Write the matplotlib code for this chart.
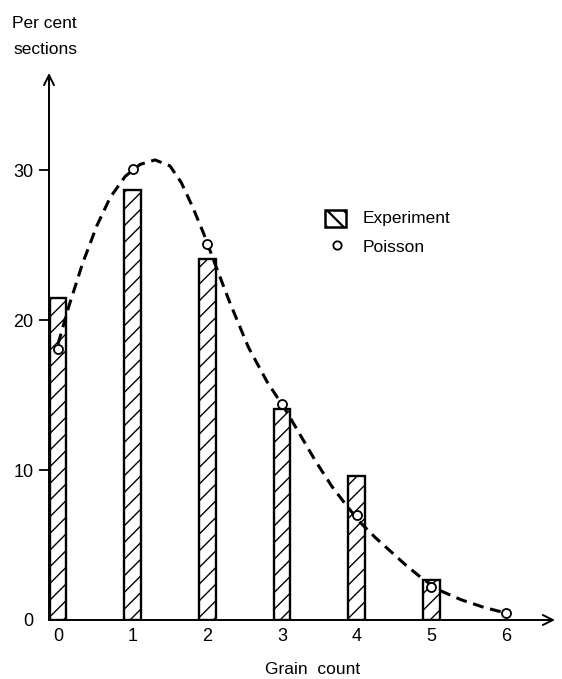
import matplotlib
matplotlib.use("Agg")
import matplotlib.pyplot as plt
from matplotlib.patches import Rectangle
from matplotlib.lines import Line2D

# Datos
grain = [0, 1, 2, 3, 4, 5]
experiment = [21.5, 28.7, 24.1, 14.1, 9.6, 2.7]
poisson_x = [0, 1, 2, 3, 4, 5, 6]
poisson = [18.1, 30.1, 25.1, 14.4, 7.0, 2.2, 0.5]
# curva a trazos (puntos leídos a lo largo de la línea)
curve_x = [0.0, 0.15, 0.33, 0.52, 0.7, 0.9, 1.1, 1.3, 1.5, 1.65, 1.8, 1.95,
           2.1, 2.3, 2.55, 2.8, 3.05, 3.25, 3.45, 3.67, 3.87, 4.05, 4.25,
           4.45, 4.65, 4.87, 5.1, 5.4, 5.7, 5.97]
curve_y = [18.4, 21.0, 23.8, 26.3, 28.2, 29.6, 30.4, 30.7, 30.3, 29.2, 27.6,
           25.8, 23.8, 21.2, 18.2, 15.9, 14.0, 12.3, 10.6, 8.9, 7.6, 6.5, 5.5,
           4.6, 3.7, 2.8, 2.0, 1.35, 0.85, 0.5]
yticks = [0, 10, 20, 30]
xticks = [0, 1, 2, 3, 4, 5, 6]

plt.rcParams["font.family"] = ["Liberation Sans", "DejaVu Sans"]
plt.rcParams["hatch.linewidth"] = 1.0

W, H = 562, 679
fig = plt.figure(figsize=(W / 100, H / 100), dpi=100)
ax = fig.add_axes([49 / W, 59 / H, 506 / W, 547 / H])
ax.set_xlim(-0.12, 6.656)
ax.set_ylim(0, 36.5)

ax.bar(grain, experiment, width=0.22, facecolor="white", edgecolor="black",
       linewidth=1.7, hatch="//", zorder=2)
ax.plot(curve_x, curve_y, color="black", lw=2.2, dashes=(3.6, 2.2),
        solid_capstyle="butt", zorder=3)
ax.plot(poisson_x, poisson, linestyle="none", marker="o", markersize=6.5,
        markerfacecolor="white", markeredgecolor="black",
        markeredgewidth=1.3, zorder=4)

# ejes con flechas
for s in ax.spines.values():
    s.set_visible(False)
arrow = dict(arrowstyle="->", lw=1.4, color="black", mutation_scale=18,
             shrinkA=0, shrinkB=0)
ax.annotate("", xy=(1, 0), xytext=(0, 0), xycoords="axes fraction",
            arrowprops=arrow, annotation_clip=False)
ax.annotate("", xy=(0, 1), xytext=(0, 0), xycoords="axes fraction",
            arrowprops=arrow, annotation_clip=False)

ax.set_yticks(yticks)
ax.set_yticklabels([str(v) for v in yticks], fontsize=13)
ax.tick_params(axis="y", length=7, width=1.3, pad=4)
ax.yaxis.get_major_ticks()[0].tick1line.set_visible(False)
ax.set_xticks(xticks)
ax.set_xticklabels([str(v) for v in xticks], fontsize=13)
ax.tick_params(axis="x", length=0, pad=6)

fig.text(313 / W, 1 - 670 / H, "Grain  count", fontsize=12.5,
         ha="center", va="center")
fig.text(12 / W, 1 - 23 / H, "Per cent", fontsize=12.5, va="center")
fig.text(13 / W, 1 - 50 / H, "sections", fontsize=12.5, va="center")

# leyenda dibujada a mano
box = Rectangle((325 / W, 1 - 227 / H), 21 / W, 17 / H,
                transform=fig.transFigure, facecolor="white",
                edgecolor="black", linewidth=1.8, hatch="\\\\")
if hasattr(box, "set_hatch_linewidth"):
    box.set_hatch_linewidth(1.6)
fig.patches.append(box)
fig.lines.append(Line2D([337 / W], [1 - 245 / H], transform=fig.transFigure,
                        marker="o", markersize=6, markerfacecolor="white",
                        markeredgecolor="black", markeredgewidth=1.3))
fig.text(363 / W, 1 - 219 / H, "Experiment", fontsize=12.5, va="center")
fig.text(363 / W, 1 - 247 / H, "Poisson", fontsize=12.5, va="center")

fig.savefig("out.png", dpi=100, facecolor="white")
